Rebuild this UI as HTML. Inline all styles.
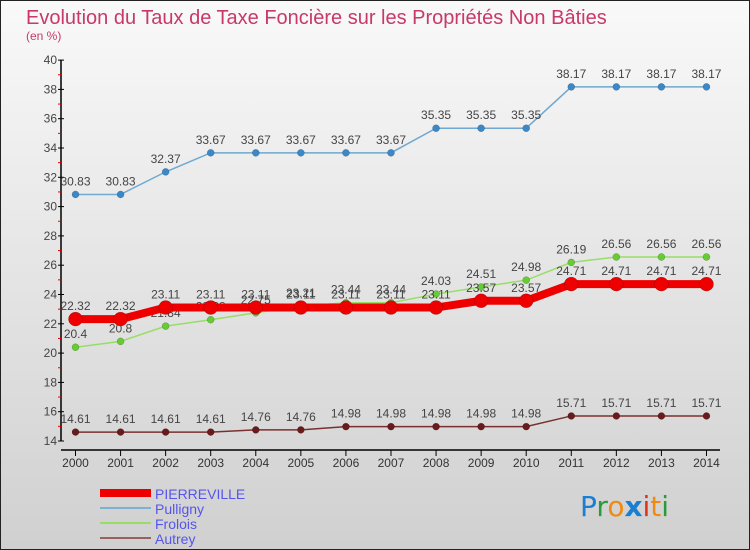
<!DOCTYPE html>
<html><head><meta charset="utf-8"><style>
body{margin:0;width:750px;height:550px;overflow:hidden;font-family:"Liberation Sans",sans-serif}
#wrap{position:absolute;left:0;top:0;width:748px;height:548px;border:1px solid #222;background:linear-gradient(#f9f9f9,#d0d0d0)}
</style></head><body>
<div id="wrap">
<svg id="c" width="750" height="550" style="position:absolute;left:-1px;top:-1px">
<text x="26" y="24" font-size="20" fill="#c8386a">Evolution du Taux de Taxe Foncière sur les Propriétés Non Bâties</text>
<text x="26" y="40" font-size="12" fill="#c8386a">(en %)</text>
<g id="g"></g>
<text x="580" y="516" font-size="28" font-family="DejaVu Sans, sans-serif"><tspan fill="#1a7fd0">P</tspan><tspan fill="#2a9a3a">r</tspan><tspan fill="#f08a10">o</tspan><tspan fill="#1a7fd0" font-weight="bold">x</tspan><tspan fill="#e03020">i</tspan><tspan fill="#f08a10">t</tspan><tspan fill="#2a9a3a">i</tspan></text>
</svg>
</div>
<script>
const years=[2000,2001,2002,2003,2004,2005,2006,2007,2008,2009,2010,2011,2012,2013,2014];
const yTicks=[14,16,18,20,22,24,26,28,30,32,34,36,38,40];
const pierreville=[22.32,22.32,23.11,23.11,23.11,23.11,23.11,23.11,23.11,23.57,23.57,24.71,24.71,24.71,24.71];
const pulligny=[30.83,30.83,32.37,33.67,33.67,33.67,33.67,33.67,35.35,35.35,35.35,38.17,38.17,38.17,38.17];
const frolois=[20.4,20.8,21.84,22.28,22.75,23.21,23.44,23.44,24.03,24.51,24.98,26.19,26.56,26.56,26.56];
const autrey=[14.61,14.61,14.61,14.61,14.76,14.76,14.98,14.98,14.98,14.98,14.98,15.71,15.71,15.71,15.71];
const NS='http://www.w3.org/2000/svg';
const g=document.getElementById('g');
const X=i=>75.5+i*45.07;
const Y=v=>441-(v-14)*14.65;
function el(t,a,p){const e=document.createElementNS(NS,t);for(const k in a)e.setAttribute(k,a[k]);(p||g).appendChild(e);return e;}
// axes
let ax=el('line',{x1:61,y1:Y(40),x2:61,y2:Y(14),stroke:'#000','stroke-width':1.5});


let bx=el('line',{x1:61,y1:450,x2:720,y2:450,stroke:'#000','stroke-width':1.5});


yTicks.forEach(v=>{
  el('line',{x1:58,y1:Y(v),x2:64,y2:Y(v),stroke:'#000'});
  if(v<40)el('line',{x1:58,y1:Y(v+1),x2:61,y2:Y(v+1),stroke:'#e00'});
  const t=el('text',{x:57,y:Y(v)+4,'font-size':12,fill:'#444','text-anchor':'end'});
  t.textContent=v;
  
  
});
years.forEach((y,i)=>{
  el('line',{x1:X(i),y1:450,x2:X(i),y2:456,stroke:'#000'});
  const t=el('text',{x:X(i),y:467,'font-size':12,fill:'#333','text-anchor':'middle'});
  t.textContent=y;
  
  
});
function series(name,vals,color,dot,w,r){
  const s=el('g',{});
  
  
  const p=el('polyline',{points:vals.map((v,i)=>X(i)+','+Y(v)).join(' '),fill:'none',stroke:color,'stroke-width':w},s);
  
  
  vals.forEach((v,i)=>{
    const c=el('circle',{cx:X(i),cy:Y(v),r:r,fill:dot,stroke:'rgba(0,0,0,0.3)','stroke-width':0.5},s);
    
    
    const t=el('text',{x:X(i),y:Y(v)-9,'font-size':12,fill:'#444','text-anchor':'middle'},s);
    t.textContent=v;
    
    
  });
}
series('autrey',autrey,'#7a3030','#6a1a1a',1.5,3.5);
series('frolois',frolois,'#99dd66','#66cc33',1.5,3.5);
series('pierreville',pierreville,'#ee0000','#ee0000',8,7);
series('pulligny',pulligny,'#6fa8d0','#3a88c8',1.5,3.5);
// legend
const leg=[['PIERREVILLE','#ee0000',8],['Pulligny','#7fb0d0',2],['Frolois','#99dd66',2],['Autrey','#996060',2]];
leg.forEach((l,i)=>{
  const y=493+i*15;
  const ln=el('line',{x1:100,y1:y,x2:151,y2:y,stroke:l[1],'stroke-width':l[2]});
  
  
  const t=el('text',{x:155,y:y+6,'font-size':14,fill:'#5555ee'});
  t.textContent=l[0];
  
  
});
</script>
</body></html>
